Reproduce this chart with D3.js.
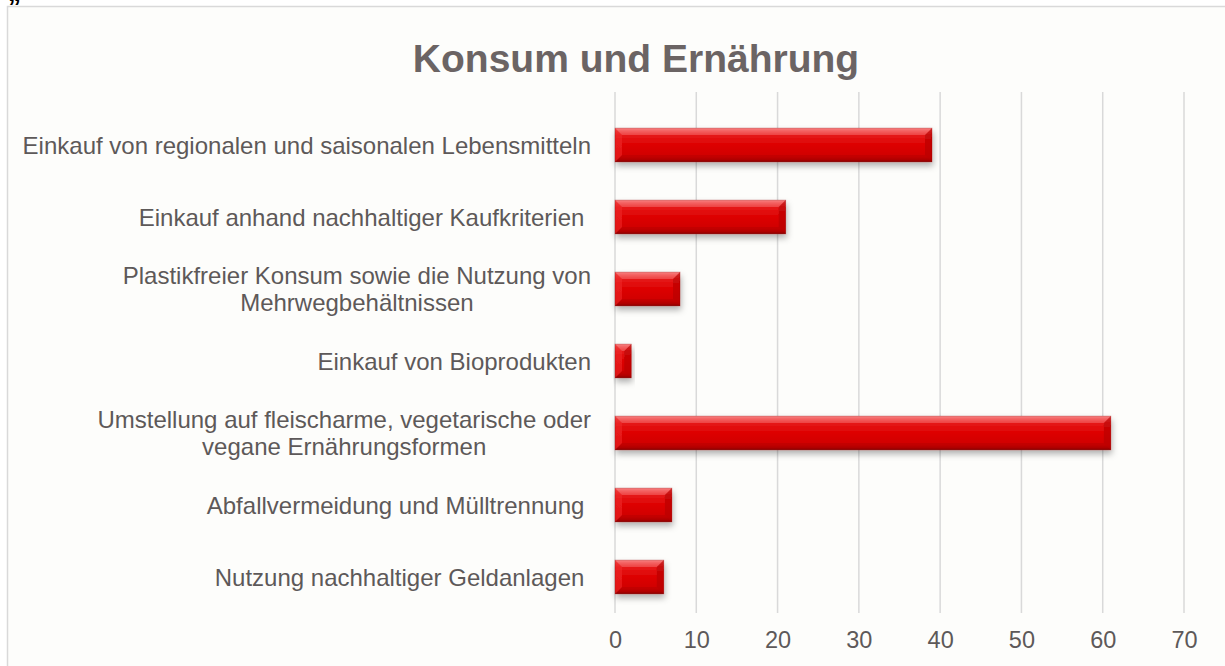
<!DOCTYPE html>
<html>
<head>
<meta charset="utf-8">
<script src="https://cdn.jsdelivr.net/npm/d3@7"></script>
<style>
  body { margin: 0; background: #fff; }
  text { font-family: "Liberation Sans", Arial, sans-serif; }
</style>
</head>
<body>
<script>
// chart data
var categories = [
	"Einkauf von regionalen und saisonalen Lebensmitteln",
	"Einkauf anhand nachhaltiger Kaufkriterien ",
	"Plastikfreier Konsum sowie die Nutzung von\nMehrwegbehältnissen",
	"Einkauf von Bioprodukten",
	"Umstellung auf fleischarme, vegetarische oder\nvegane Ernährungsformen",
	"Abfallvermeidung und Mülltrennung ",
	"Nutzung nachhaltiger Geldanlagen "
];
var values = [39, 21, 8, 2, 61, 7, 6];
var ticks = [0, 10, 20, 30, 40, 50, 60, 70];
var title = "Konsum und Ernährung";

var width = 1225, height = 666;
var plot = { left: 615, right: 1184, top: 109, bottom: 613, gridTop: 92 };
var textCol = "#5d5959";

var svg = d3.select("body").append("svg")
	.attr("width", width)
	.attr("height", height);

// defs: bar gradient, shadow
var defs = svg.append("defs");
var grad = defs.append("linearGradient").attr("id", "barGrad")
	.attr("x1", 0).attr("y1", 0).attr("x2", 0).attr("y2", 1);
[[0, "#f47a7a"], [0.08, "#ef4a4a"], [0.22, "#e51616"], [0.5, "#dd0303"], [0.85, "#cf0000"], [0.94, "#b40000"], [1, "#820000"]]
	.forEach(function (s) { grad.append("stop").attr("offset", s[0]).attr("stop-color", s[1]); });

var shadow = defs.append("filter").attr("id", "shadow")
	.attr("x", "-10%").attr("y", "-30%").attr("width", "130%").attr("height", "180%");
shadow.append("feDropShadow")
	.attr("dx", 1).attr("dy", 4).attr("stdDeviation", 3)
	.attr("flood-color", "#000").attr("flood-opacity", 0.3);

// page heading cut off at top (only the low quote is readable)
svg.append("text")
	.attr("x", 8).attr("y", 1)
	.style("font-size", "26px").style("font-weight", "bold").style("fill", "#000")
	.text("„");

// chart frame
svg.append("rect")
	.attr("x", 7.5).attr("y", 6.5)
	.attr("width", width).attr("height", height)
	.attr("fill", "#fdfdfb")
	.attr("stroke", "#d9d9d9").attr("stroke-width", 1.5);

// title
svg.append("text")
	.attr("x", 636).attr("y", 72)
	.attr("text-anchor", "middle")
	.style("font-size", "39px").style("font-weight", "bold").style("fill", "#6b6464")
	.text(title);

var x = d3.scaleLinear().domain([0, 70]).range([plot.left, plot.right]);
var y = d3.scaleBand().domain(categories).range([plot.top, plot.bottom]).paddingInner(0.53).paddingOuter(0.265);

// gridlines
svg.append("g").selectAll("line")
	.data(ticks)
	.enter().append("line")
	.attr("x1", function (d) { return x(d); })
	.attr("x2", function (d) { return x(d); })
	.attr("y1", plot.gridTop).attr("y2", plot.bottom)
	.attr("stroke", "#d9d9d9").attr("stroke-width", 1.5);

// x axis labels
var xAxis = d3.axisBottom(x).tickValues(ticks).tickSize(0).tickPadding(0);
var gx = svg.append("g").attr("transform", "translate(0," + (plot.bottom + 35) + ")").call(xAxis);
gx.select(".domain").remove();
gx.selectAll("text")
	.attr("dy", 0)
	.style("font-size", "23.5px").style("fill", textCol)
	.style("font-family", "'Liberation Sans', Arial, sans-serif");

// bars
var bars = svg.append("g").selectAll("g")
	.data(categories)
	.enter().append("g")
	.attr("filter", "url(#shadow)");

bars.each(function (c, i) {
	var g = d3.select(this);
	var x0 = x(0), x1 = x(values[i]);
	var y0 = y(c), h = y.bandwidth(), y1 = y0 + h;
	var b = Math.min(7, (x1 - x0) / 2);
	g.append("rect")
		.attr("x", x0).attr("y", y0).attr("width", x1 - x0).attr("height", h)
		.attr("fill", "url(#barGrad)");
	// bevelled ends
	g.append("path")
		.attr("d", "M" + x0 + "," + y0 + "L" + (x0 + b) + "," + (y0 + b) + "L" + (x0 + b) + "," + (y1 - b) + "L" + x0 + "," + y1 + "Z")
		.attr("fill", "#ee2a2a").attr("opacity", 0.6);
	g.append("path")
		.attr("d", "M" + x1 + "," + y0 + "L" + (x1 - b) + "," + (y0 + b) + "L" + (x1 - b) + "," + (y1 - b) + "L" + x1 + "," + y1 + "Z")
		.attr("fill", "#b00000").attr("opacity", 0.55);
	g.append("path")
		.attr("d", "M" + x0 + "," + y0 + "L" + x1 + "," + y0 + "L" + (x1 - b) + "," + (y0 + b) + "L" + (x0 + b) + "," + (y0 + b) + "Z")
		.attr("fill", "#ff9a9a").attr("opacity", 0.3);
	g.append("path")
		.attr("d", "M" + x0 + "," + y1 + "L" + x1 + "," + y1 + "L" + (x1 - b) + "," + (y1 - b) + "L" + (x0 + b) + "," + (y1 - b) + "Z")
		.attr("fill", "#900000").attr("opacity", 0.2);
	g.append("rect")
		.attr("x", x0).attr("y", y0).attr("width", x1 - x0).attr("height", h)
		.attr("fill", "none").attr("stroke", "#8a0000").attr("stroke-opacity", 0.35).attr("stroke-width", 0.8);
});

// category labels: block right aligned, lines centred
var lineH = 27, labelRight = 591;
categories.forEach(function (c) {
	var lines = c.split("\n");
	var cy = y(c) + y.bandwidth() / 2;
	var t = svg.append("text")
		.attr("text-anchor", "middle")
		.style("font-size", "24px").style("fill", textCol)
		.style("white-space", "pre");
	var spans = lines.map(function (l, k) {
		return t.append("tspan")
			.attr("y", cy + 8.5 - (lines.length - 1) * lineH / 2 + k * lineH)
			.text(l);
	});
	var w = d3.max(spans, function (s) { return s.node().getComputedTextLength(); });
	spans.forEach(function (s) { s.attr("x", labelRight - w / 2); });
});
</script>
</body>
</html>
